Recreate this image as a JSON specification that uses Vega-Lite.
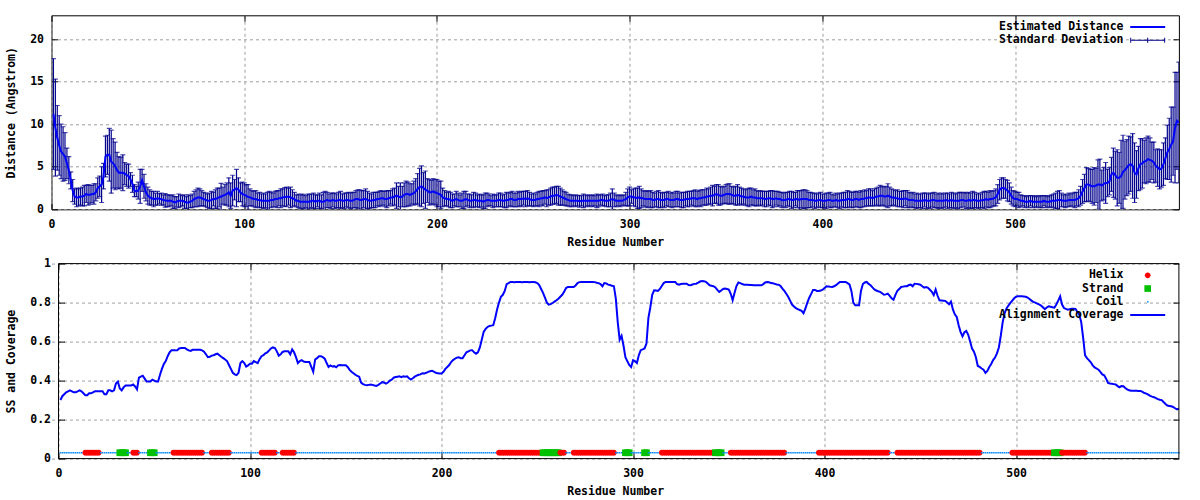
{
"$schema": "https://vega.github.io/schema/vega-lite/v6.json",
"background": "white",
"padding": {"left": 4.5, "top": 14.3, "right": 0, "bottom": 0},
"datasets": {"res": [
{"r":1,"d":11.2,"s":6.5,"c":0.3,"t":"C"},{"r":2,"d":9.6,"s":5.7,"c":0.32,"t":"C"},{"r":3,"d":8.4,"s":3.8,"c":0.33,"t":"C"},{"r":4,"d":7.5,"s":3.5,"c":0.34,"t":"C"},{"r":5,"d":6.8,"s":3.2,"c":0.345,"t":"C"},{"r":6,"d":6.5,"s":3.2,"c":0.35,"t":"C"},{"r":7,"d":6.2,"s":2.8,"c":0.345,"t":"C"},{"r":8,"d":5.4,"s":1.8,"c":0.34,"t":"C"},{"r":9,"d":4.6,"s":1.6,"c":0.34,"t":"C"},{"r":10,"d":3.4,"s":1.0,"c":0.345,"t":"C"},
{"r":11,"d":2.2,"s":1.3,"c":0.35,"t":"C"},{"r":12,"d":1.5,"s":0.9,"c":0.345,"t":"C"},{"r":13,"d":1.4,"s":1.1,"c":0.335,"t":"C"},{"r":14,"d":1.4,"s":1.0,"c":0.325,"t":"H"},{"r":15,"d":1.5,"s":1.0,"c":0.325,"t":"H"},{"r":16,"d":1.5,"s":1.1,"c":0.335,"t":"H"},{"r":17,"d":1.6,"s":1.2,"c":0.335,"t":"H"},{"r":18,"d":1.8,"s":1.0,"c":0.34,"t":"H"},{"r":19,"d":1.7,"s":1.2,"c":0.345,"t":"H"},{"r":20,"d":1.7,"s":1.1,"c":0.345,"t":"H"},
{"r":21,"d":1.8,"s":1.0,"c":0.345,"t":"H"},{"r":22,"d":1.8,"s":1.2,"c":0.345,"t":"C"},{"r":23,"d":2.0,"s":1.0,"c":0.345,"t":"C"},{"r":24,"d":2.5,"s":1.2,"c":0.33,"t":"C"},{"r":25,"d":2.7,"s":1.2,"c":0.33,"t":"C"},{"r":26,"d":2.9,"s":2.1,"c":0.35,"t":"C"},{"r":27,"d":3.9,"s":1.5,"c":0.35,"t":"C"},{"r":28,"d":6.2,"s":2.4,"c":0.345,"t":"C"},{"r":29,"d":6.4,"s":2.3,"c":0.35,"t":"C"},{"r":30,"d":6.4,"s":3.1,"c":0.385,"t":"C"},
{"r":31,"d":5.6,"s":3.7,"c":0.395,"t":"C"},{"r":32,"d":5.4,"s":2.9,"c":0.36,"t":"E"},{"r":33,"d":5.1,"s":2.8,"c":0.35,"t":"E"},{"r":34,"d":4.6,"s":2.1,"c":0.365,"t":"E"},{"r":35,"d":4.3,"s":1.9,"c":0.375,"t":"E"},{"r":36,"d":4.3,"s":1.8,"c":0.375,"t":"C"},{"r":37,"d":4.3,"s":2.1,"c":0.375,"t":"C"},{"r":38,"d":4.2,"s":1.3,"c":0.375,"t":"C"},{"r":39,"d":4.0,"s":1.3,"c":0.38,"t":"H"},{"r":40,"d":3.9,"s":1.4,"c":0.37,"t":"H"},
{"r":41,"d":3.5,"s":0.8,"c":0.355,"t":"H"},{"r":42,"d":3.0,"s":1.0,"c":0.415,"t":"C"},{"r":43,"d":2.2,"s":0.7,"c":0.42,"t":"C"},{"r":44,"d":2.1,"s":0.6,"c":0.425,"t":"C"},{"r":45,"d":2.2,"s":1.0,"c":0.41,"t":"C"},{"r":46,"d":2.7,"s":2.0,"c":0.395,"t":"C"},{"r":47,"d":3.4,"s":1.3,"c":0.395,"t":"C"},{"r":48,"d":2.7,"s":1.4,"c":0.395,"t":"E"},{"r":49,"d":2.0,"s":1.0,"c":0.405,"t":"E"},{"r":50,"d":1.6,"s":1.0,"c":0.4,"t":"E"},
{"r":51,"d":1.4,"s":0.9,"c":0.395,"t":"C"},{"r":52,"d":1.3,"s":0.8,"c":0.395,"t":"C"},{"r":53,"d":1.2,"s":0.9,"c":0.43,"t":"C"},{"r":54,"d":1.2,"s":0.7,"c":0.46,"t":"C"},{"r":55,"d":1.3,"s":0.8,"c":0.485,"t":"C"},{"r":56,"d":1.25,"s":0.6,"c":0.5,"t":"C"},{"r":57,"d":1.2,"s":0.7,"c":0.525,"t":"C"},{"r":58,"d":1.1,"s":0.6,"c":0.545,"t":"C"},{"r":59,"d":1.05,"s":0.8,"c":0.555,"t":"C"},{"r":60,"d":1.0,"s":0.7,"c":0.555,"t":"H"},
{"r":61,"d":1.0,"s":0.7,"c":0.555,"t":"H"},{"r":62,"d":1.0,"s":0.6,"c":0.556,"t":"H"},{"r":63,"d":0.9,"s":0.8,"c":0.565,"t":"H"},{"r":64,"d":0.8,"s":0.7,"c":0.567,"t":"H"},{"r":65,"d":0.9,"s":0.6,"c":0.567,"t":"H"},{"r":66,"d":1.0,"s":0.8,"c":0.567,"t":"H"},{"r":67,"d":1.0,"s":0.7,"c":0.56,"t":"H"},{"r":68,"d":1.0,"s":0.6,"c":0.555,"t":"H"},{"r":69,"d":0.9,"s":0.8,"c":0.552,"t":"H"},{"r":70,"d":0.8,"s":0.7,"c":0.558,"t":"H"},
{"r":71,"d":0.8,"s":0.9,"c":0.558,"t":"H"},{"r":72,"d":0.9,"s":0.7,"c":0.558,"t":"H"},{"r":73,"d":1.0,"s":0.8,"c":0.558,"t":"H"},{"r":74,"d":1.2,"s":0.9,"c":0.558,"t":"H"},{"r":75,"d":1.3,"s":1.0,"c":0.555,"t":"H"},{"r":76,"d":1.4,"s":1.1,"c":0.548,"t":"C"},{"r":77,"d":1.4,"s":1.0,"c":0.535,"t":"C"},{"r":78,"d":1.3,"s":0.9,"c":0.52,"t":"C"},{"r":79,"d":1.2,"s":0.8,"c":0.522,"t":"C"},{"r":80,"d":1.1,"s":0.8,"c":0.528,"t":"H"},
{"r":81,"d":1.0,"s":0.8,"c":0.53,"t":"H"},{"r":82,"d":1.0,"s":0.9,"c":0.535,"t":"H"},{"r":83,"d":1.1,"s":1.0,"c":0.538,"t":"H"},{"r":84,"d":1.2,"s":0.8,"c":0.53,"t":"H"},{"r":85,"d":1.2,"s":1.1,"c":0.522,"t":"H"},{"r":86,"d":1.3,"s":1.2,"c":0.515,"t":"H"},{"r":87,"d":1.4,"s":1.1,"c":0.508,"t":"H"},{"r":88,"d":1.5,"s":1.55,"c":0.5,"t":"H"},{"r":89,"d":1.6,"s":1.0,"c":0.48,"t":"H"},{"r":90,"d":1.7,"s":1.2,"c":0.46,"t":"C"},
{"r":91,"d":1.8,"s":1.3,"c":0.44,"t":"C"},{"r":92,"d":2.0,"s":1.7,"c":0.432,"t":"C"},{"r":93,"d":1.6,"s":1.5,"c":0.428,"t":"C"},{"r":94,"d":2.2,"s":1.8,"c":0.44,"t":"C"},{"r":95,"d":2.3,"s":1.2,"c":0.49,"t":"C"},{"r":96,"d":2.5,"s":2.2,"c":0.5,"t":"C"},{"r":97,"d":2.3,"s":1.4,"c":0.49,"t":"C"},{"r":98,"d":2.0,"s":1.1,"c":0.472,"t":"C"},{"r":99,"d":1.8,"s":1.4,"c":0.478,"t":"C"},{"r":100,"d":1.7,"s":1.4,"c":0.487,"t":"C"},
{"r":101,"d":1.6,"s":1.3,"c":0.487,"t":"C"},{"r":102,"d":1.45,"s":1.45,"c":0.5,"t":"C"},{"r":103,"d":1.4,"s":1.0,"c":0.495,"t":"C"},{"r":104,"d":1.3,"s":0.9,"c":0.49,"t":"C"},{"r":105,"d":1.2,"s":0.9,"c":0.51,"t":"C"},{"r":106,"d":1.2,"s":1.0,"c":0.525,"t":"H"},{"r":107,"d":1.1,"s":0.8,"c":0.53,"t":"H"},{"r":108,"d":1.1,"s":0.9,"c":0.54,"t":"H"},{"r":109,"d":1.0,"s":0.8,"c":0.545,"t":"H"},{"r":110,"d":1.0,"s":0.9,"c":0.555,"t":"H"},
{"r":111,"d":1.0,"s":0.8,"c":0.565,"t":"H"},{"r":112,"d":1.0,"s":1.0,"c":0.57,"t":"H"},{"r":113,"d":1.0,"s":1.1,"c":0.567,"t":"H"},{"r":114,"d":1.1,"s":0.9,"c":0.55,"t":"C"},{"r":115,"d":1.1,"s":0.8,"c":0.528,"t":"C"},{"r":116,"d":1.2,"s":0.9,"c":0.535,"t":"C"},{"r":117,"d":1.2,"s":1.0,"c":0.547,"t":"H"},{"r":118,"d":1.3,"s":0.9,"c":0.55,"t":"H"},{"r":119,"d":1.3,"s":1.1,"c":0.55,"t":"H"},{"r":120,"d":1.4,"s":1.0,"c":0.55,"t":"H"},
{"r":121,"d":1.45,"s":1.1,"c":0.535,"t":"H"},{"r":122,"d":1.45,"s":1.15,"c":0.56,"t":"H"},{"r":123,"d":1.5,"s":1.0,"c":0.545,"t":"H"},{"r":124,"d":1.4,"s":1.2,"c":0.52,"t":"C"},{"r":125,"d":1.3,"s":1.0,"c":0.49,"t":"C"},{"r":126,"d":1.2,"s":0.8,"c":0.5,"t":"C"},{"r":127,"d":1.0,"s":0.7,"c":0.505,"t":"C"},{"r":128,"d":1.0,"s":0.8,"c":0.498,"t":"C"},{"r":129,"d":0.9,"s":0.8,"c":0.496,"t":"C"},{"r":130,"d":0.9,"s":0.9,"c":0.496,"t":"C"},
{"r":131,"d":0.9,"s":0.8,"c":0.496,"t":"C"},{"r":132,"d":0.9,"s":0.7,"c":0.47,"t":"C"},{"r":133,"d":0.9,"s":0.9,"c":0.445,"t":"C"},{"r":134,"d":0.9,"s":0.85,"c":0.508,"t":"C"},{"r":135,"d":1.0,"s":0.8,"c":0.515,"t":"C"},{"r":136,"d":1.0,"s":0.9,"c":0.525,"t":"C"},{"r":137,"d":0.9,"s":0.8,"c":0.525,"t":"C"},{"r":138,"d":1.0,"s":0.7,"c":0.52,"t":"C"},{"r":139,"d":1.0,"s":0.9,"c":0.513,"t":"C"},{"r":140,"d":0.9,"s":0.8,"c":0.49,"t":"C"},
{"r":141,"d":0.9,"s":1.1,"c":0.47,"t":"C"},{"r":142,"d":1.0,"s":1.1,"c":0.478,"t":"C"},{"r":143,"d":1.1,"s":0.9,"c":0.472,"t":"C"},{"r":144,"d":1.0,"s":0.8,"c":0.474,"t":"C"},{"r":145,"d":1.0,"s":0.9,"c":0.468,"t":"C"},{"r":146,"d":1.1,"s":0.8,"c":0.478,"t":"C"},{"r":147,"d":1.0,"s":0.9,"c":0.48,"t":"C"},{"r":148,"d":1.0,"s":0.8,"c":0.479,"t":"C"},{"r":149,"d":1.1,"s":0.9,"c":0.479,"t":"C"},{"r":150,"d":1.1,"s":1.0,"c":0.479,"t":"C"},
{"r":151,"d":1.0,"s":0.8,"c":0.47,"t":"C"},{"r":152,"d":1.0,"s":0.9,"c":0.455,"t":"C"},{"r":153,"d":1.1,"s":0.8,"c":0.445,"t":"C"},{"r":154,"d":1.1,"s":0.9,"c":0.438,"t":"C"},{"r":155,"d":1.0,"s":0.9,"c":0.43,"t":"C"},{"r":156,"d":1.0,"s":1.0,"c":0.424,"t":"C"},{"r":157,"d":1.1,"s":0.9,"c":0.42,"t":"C"},{"r":158,"d":1.2,"s":1.0,"c":0.39,"t":"C"},{"r":159,"d":1.2,"s":1.1,"c":0.382,"t":"C"},{"r":160,"d":1.1,"s":1.2,"c":0.378,"t":"C"},
{"r":161,"d":1.1,"s":1.1,"c":0.376,"t":"C"},{"r":162,"d":1.2,"s":1.0,"c":0.378,"t":"C"},{"r":163,"d":1.2,"s":1.2,"c":0.38,"t":"C"},{"r":164,"d":1.1,"s":1.0,"c":0.378,"t":"C"},{"r":165,"d":1.0,"s":0.9,"c":0.375,"t":"C"},{"r":166,"d":1.0,"s":0.8,"c":0.373,"t":"C"},{"r":167,"d":1.1,"s":0.9,"c":0.378,"t":"C"},{"r":168,"d":1.1,"s":0.9,"c":0.385,"t":"C"},{"r":169,"d":1.2,"s":0.8,"c":0.392,"t":"C"},{"r":170,"d":1.2,"s":0.9,"c":0.39,"t":"C"},
{"r":171,"d":1.3,"s":0.9,"c":0.385,"t":"C"},{"r":172,"d":1.3,"s":0.8,"c":0.39,"t":"C"},{"r":173,"d":1.2,"s":0.9,"c":0.4,"t":"C"},{"r":174,"d":1.2,"s":1.0,"c":0.405,"t":"C"},{"r":175,"d":1.3,"s":0.9,"c":0.415,"t":"C"},{"r":176,"d":1.4,"s":0.8,"c":0.418,"t":"C"},{"r":177,"d":1.4,"s":1.0,"c":0.42,"t":"C"},{"r":178,"d":1.5,"s":1.0,"c":0.422,"t":"C"},{"r":179,"d":1.6,"s":1.5,"c":0.418,"t":"C"},{"r":180,"d":1.5,"s":1.2,"c":0.422,"t":"C"},
{"r":181,"d":1.4,"s":1.7,"c":0.42,"t":"C"},{"r":182,"d":1.5,"s":1.2,"c":0.422,"t":"C"},{"r":183,"d":1.7,"s":1.4,"c":0.412,"t":"C"},{"r":184,"d":1.8,"s":1.5,"c":0.405,"t":"C"},{"r":185,"d":1.8,"s":1.4,"c":0.412,"t":"C"},{"r":186,"d":1.7,"s":1.3,"c":0.42,"t":"C"},{"r":187,"d":1.8,"s":1.2,"c":0.425,"t":"C"},{"r":188,"d":1.9,"s":1.4,"c":0.43,"t":"C"},{"r":189,"d":2.1,"s":1.5,"c":0.432,"t":"C"},{"r":190,"d":2.4,"s":1.8,"c":0.438,"t":"C"},
{"r":191,"d":2.6,"s":2.2,"c":0.436,"t":"C"},{"r":192,"d":2.7,"s":2.4,"c":0.44,"t":"C"},{"r":193,"d":2.5,"s":1.8,"c":0.445,"t":"C"},{"r":194,"d":2.3,"s":2.2,"c":0.448,"t":"C"},{"r":195,"d":2.2,"s":1.4,"c":0.45,"t":"C"},{"r":196,"d":2.0,"s":1.5,"c":0.446,"t":"C"},{"r":197,"d":2.0,"s":1.4,"c":0.44,"t":"C"},{"r":198,"d":2.1,"s":1.5,"c":0.438,"t":"C"},{"r":199,"d":2.0,"s":1.5,"c":0.436,"t":"C"},{"r":200,"d":1.9,"s":1.6,"c":0.436,"t":"C"},
{"r":201,"d":1.8,"s":1.5,"c":0.445,"t":"C"},{"r":202,"d":1.7,"s":1.6,"c":0.46,"t":"C"},{"r":203,"d":1.4,"s":1.1,"c":0.47,"t":"C"},{"r":204,"d":1.3,"s":0.9,"c":0.48,"t":"C"},{"r":205,"d":1.2,"s":0.8,"c":0.495,"t":"C"},{"r":206,"d":1.2,"s":0.9,"c":0.505,"t":"C"},{"r":207,"d":1.1,"s":0.9,"c":0.512,"t":"C"},{"r":208,"d":1.0,"s":0.8,"c":0.518,"t":"C"},{"r":209,"d":1.1,"s":0.7,"c":0.52,"t":"C"},{"r":210,"d":1.2,"s":0.9,"c":0.515,"t":"C"},
{"r":211,"d":1.1,"s":0.8,"c":0.515,"t":"C"},{"r":212,"d":1.0,"s":0.7,"c":0.53,"t":"C"},{"r":213,"d":1.0,"s":0.9,"c":0.545,"t":"C"},{"r":214,"d":1.1,"s":1.0,"c":0.55,"t":"C"},{"r":215,"d":1.2,"s":0.9,"c":0.555,"t":"C"},{"r":216,"d":1.1,"s":0.7,"c":0.556,"t":"C"},{"r":217,"d":1.0,"s":0.8,"c":0.545,"t":"C"},{"r":218,"d":1.0,"s":0.7,"c":0.538,"t":"C"},{"r":219,"d":1.1,"s":0.9,"c":0.545,"t":"C"},{"r":220,"d":1.1,"s":0.8,"c":0.57,"t":"C"},
{"r":221,"d":1.0,"s":0.7,"c":0.61,"t":"C"},{"r":222,"d":1.0,"s":0.8,"c":0.65,"t":"C"},{"r":223,"d":1.0,"s":0.7,"c":0.665,"t":"C"},{"r":224,"d":0.9,"s":0.8,"c":0.675,"t":"C"},{"r":225,"d":1.0,"s":0.9,"c":0.68,"t":"C"},{"r":226,"d":1.1,"s":0.8,"c":0.682,"t":"C"},{"r":227,"d":1.1,"s":0.7,"c":0.684,"t":"C"},{"r":228,"d":1.0,"s":0.6,"c":0.72,"t":"C"},{"r":229,"d":1.0,"s":0.8,"c":0.765,"t":"C"},{"r":230,"d":1.0,"s":0.7,"c":0.8,"t":"H"},
{"r":231,"d":1.0,"s":0.7,"c":0.83,"t":"H"},{"r":232,"d":1.1,"s":0.8,"c":0.84,"t":"H"},{"r":233,"d":1.1,"s":0.8,"c":0.86,"t":"H"},{"r":234,"d":1.0,"s":0.7,"c":0.895,"t":"H"},{"r":235,"d":1.0,"s":0.8,"c":0.9,"t":"H"},{"r":236,"d":1.1,"s":0.9,"c":0.906,"t":"H"},{"r":237,"d":1.1,"s":0.8,"c":0.906,"t":"H"},{"r":238,"d":1.2,"s":0.8,"c":0.905,"t":"H"},{"r":239,"d":1.2,"s":0.9,"c":0.906,"t":"H"},{"r":240,"d":1.1,"s":0.8,"c":0.906,"t":"H"},
{"r":241,"d":1.1,"s":0.8,"c":0.906,"t":"H"},{"r":242,"d":1.2,"s":0.9,"c":0.905,"t":"H"},{"r":243,"d":1.2,"s":0.8,"c":0.906,"t":"H"},{"r":244,"d":1.2,"s":0.9,"c":0.906,"t":"H"},{"r":245,"d":1.3,"s":0.8,"c":0.906,"t":"H"},{"r":246,"d":1.2,"s":0.9,"c":0.905,"t":"H"},{"r":247,"d":1.3,"s":0.9,"c":0.906,"t":"H"},{"r":248,"d":1.2,"s":0.8,"c":0.906,"t":"H"},{"r":249,"d":1.1,"s":0.7,"c":0.904,"t":"H"},{"r":250,"d":1.1,"s":0.8,"c":0.9,"t":"H"},
{"r":251,"d":1.1,"s":0.7,"c":0.89,"t":"H"},{"r":252,"d":1.2,"s":0.8,"c":0.87,"t":"H"},{"r":253,"d":1.2,"s":0.9,"c":0.85,"t":"E"},{"r":254,"d":1.3,"s":0.8,"c":0.825,"t":"E"},{"r":255,"d":1.3,"s":0.9,"c":0.8,"t":"E"},{"r":256,"d":1.4,"s":0.8,"c":0.79,"t":"E"},{"r":257,"d":1.3,"s":1.0,"c":0.792,"t":"E"},{"r":258,"d":1.4,"s":0.9,"c":0.798,"t":"E"},{"r":259,"d":1.5,"s":1.0,"c":0.805,"t":"E"},{"r":260,"d":1.6,"s":1.0,"c":0.812,"t":"E"},
{"r":261,"d":1.6,"s":1.0,"c":0.82,"t":"E"},{"r":262,"d":1.7,"s":1.0,"c":0.83,"t":"H"},{"r":263,"d":1.6,"s":1.1,"c":0.84,"t":"H"},{"r":264,"d":1.5,"s":1.0,"c":0.855,"t":"H"},{"r":265,"d":1.4,"s":0.9,"c":0.875,"t":"C"},{"r":266,"d":1.3,"s":0.8,"c":0.88,"t":"C"},{"r":267,"d":1.2,"s":0.8,"c":0.88,"t":"C"},{"r":268,"d":1.1,"s":0.7,"c":0.88,"t":"C"},{"r":269,"d":1.0,"s":0.7,"c":0.88,"t":"H"},{"r":270,"d":1.0,"s":0.7,"c":0.888,"t":"H"},
{"r":271,"d":1.0,"s":0.6,"c":0.9,"t":"H"},{"r":272,"d":1.0,"s":0.7,"c":0.905,"t":"H"},{"r":273,"d":1.0,"s":0.6,"c":0.906,"t":"H"},{"r":274,"d":0.95,"s":0.7,"c":0.906,"t":"H"},{"r":275,"d":1.0,"s":0.6,"c":0.906,"t":"H"},{"r":276,"d":1.0,"s":0.8,"c":0.906,"t":"H"},{"r":277,"d":1.0,"s":0.7,"c":0.906,"t":"H"},{"r":278,"d":1.0,"s":0.6,"c":0.906,"t":"H"},{"r":279,"d":1.0,"s":0.7,"c":0.906,"t":"H"},{"r":280,"d":1.0,"s":0.6,"c":0.905,"t":"H"},
{"r":281,"d":1.0,"s":0.7,"c":0.902,"t":"H"},{"r":282,"d":1.0,"s":0.6,"c":0.9,"t":"H"},{"r":283,"d":1.0,"s":0.8,"c":0.895,"t":"H"},{"r":284,"d":1.0,"s":0.7,"c":0.884,"t":"H"},{"r":285,"d":1.1,"s":0.6,"c":0.9,"t":"H"},{"r":286,"d":1.1,"s":0.7,"c":0.898,"t":"H"},{"r":287,"d":1.0,"s":0.6,"c":0.892,"t":"H"},{"r":288,"d":1.0,"s":0.7,"c":0.89,"t":"H"},{"r":289,"d":1.0,"s":0.7,"c":0.886,"t":"H"},{"r":290,"d":1.1,"s":0.8,"c":0.884,"t":"H"},
{"r":291,"d":1.2,"s":1.2,"c":0.82,"t":"C"},{"r":292,"d":1.1,"s":0.8,"c":0.7,"t":"C"},{"r":293,"d":1.0,"s":0.7,"c":0.61,"t":"C"},{"r":294,"d":1.0,"s":0.6,"c":0.63,"t":"C"},{"r":295,"d":1.0,"s":0.7,"c":0.58,"t":"C"},{"r":296,"d":1.0,"s":0.6,"c":0.52,"t":"E"},{"r":297,"d":1.1,"s":0.6,"c":0.5,"t":"E"},{"r":298,"d":1.2,"s":0.8,"c":0.48,"t":"E"},{"r":299,"d":1.4,"s":1.0,"c":0.47,"t":"C"},{"r":300,"d":1.5,"s":1.1,"c":0.505,"t":"C"},
{"r":301,"d":1.5,"s":0.8,"c":0.5,"t":"C"},{"r":302,"d":1.4,"s":1.0,"c":0.49,"t":"C"},{"r":303,"d":1.4,"s":1.1,"c":0.53,"t":"C"},{"r":304,"d":1.3,"s":1.2,"c":0.556,"t":"C"},{"r":305,"d":1.4,"s":1.3,"c":0.56,"t":"C"},{"r":306,"d":1.3,"s":1.1,"c":0.565,"t":"E"},{"r":307,"d":1.3,"s":0.9,"c":0.59,"t":"E"},{"r":308,"d":1.2,"s":0.9,"c":0.72,"t":"C"},{"r":309,"d":1.2,"s":1.0,"c":0.775,"t":"C"},{"r":310,"d":1.2,"s":0.9,"c":0.84,"t":"C"},
{"r":311,"d":1.2,"s":1.0,"c":0.863,"t":"C"},{"r":312,"d":1.1,"s":0.9,"c":0.862,"t":"C"},{"r":313,"d":1.1,"s":0.8,"c":0.86,"t":"C"},{"r":314,"d":1.2,"s":0.9,"c":0.87,"t":"C"},{"r":315,"d":1.2,"s":1.0,"c":0.885,"t":"H"},{"r":316,"d":1.1,"s":0.9,"c":0.9,"t":"H"},{"r":317,"d":1.1,"s":0.8,"c":0.906,"t":"H"},{"r":318,"d":1.1,"s":0.9,"c":0.906,"t":"H"},{"r":319,"d":1.2,"s":0.8,"c":0.906,"t":"H"},{"r":320,"d":1.2,"s":0.9,"c":0.906,"t":"H"},
{"r":321,"d":1.1,"s":0.8,"c":0.906,"t":"H"},{"r":322,"d":1.1,"s":0.9,"c":0.906,"t":"H"},{"r":323,"d":1.1,"s":0.8,"c":0.895,"t":"H"},{"r":324,"d":1.2,"s":0.9,"c":0.892,"t":"H"},{"r":325,"d":1.2,"s":0.9,"c":0.895,"t":"H"},{"r":326,"d":1.1,"s":0.8,"c":0.897,"t":"H"},{"r":327,"d":1.1,"s":0.9,"c":0.897,"t":"H"},{"r":328,"d":1.1,"s":0.9,"c":0.897,"t":"H"},{"r":329,"d":1.2,"s":0.8,"c":0.89,"t":"H"},{"r":330,"d":1.2,"s":0.9,"c":0.889,"t":"H"},
{"r":331,"d":1.2,"s":0.9,"c":0.893,"t":"H"},{"r":332,"d":1.3,"s":0.8,"c":0.896,"t":"H"},{"r":333,"d":1.3,"s":0.9,"c":0.897,"t":"H"},{"r":334,"d":1.3,"s":1.0,"c":0.902,"t":"H"},{"r":335,"d":1.2,"s":0.9,"c":0.908,"t":"H"},{"r":336,"d":1.3,"s":0.9,"c":0.911,"t":"H"},{"r":337,"d":1.3,"s":1.0,"c":0.91,"t":"H"},{"r":338,"d":1.4,"s":0.9,"c":0.906,"t":"H"},{"r":339,"d":1.4,"s":0.9,"c":0.898,"t":"H"},{"r":340,"d":1.5,"s":1.0,"c":0.889,"t":"H"},
{"r":341,"d":1.5,"s":0.9,"c":0.886,"t":"H"},{"r":342,"d":1.6,"s":1.0,"c":0.884,"t":"H"},{"r":343,"d":1.6,"s":1.2,"c":0.878,"t":"E"},{"r":344,"d":1.7,"s":1.0,"c":0.865,"t":"E"},{"r":345,"d":1.8,"s":1.1,"c":0.855,"t":"E"},{"r":346,"d":1.7,"s":1.2,"c":0.862,"t":"E"},{"r":347,"d":1.6,"s":1.1,"c":0.87,"t":"C"},{"r":348,"d":1.6,"s":1.0,"c":0.872,"t":"C"},{"r":349,"d":1.7,"s":1.0,"c":0.87,"t":"C"},{"r":350,"d":1.8,"s":1.1,"c":0.867,"t":"C"},
{"r":351,"d":1.8,"s":1.2,"c":0.845,"t":"H"},{"r":352,"d":1.8,"s":1.2,"c":0.812,"t":"H"},{"r":353,"d":1.7,"s":1.0,"c":0.85,"t":"H"},{"r":354,"d":1.6,"s":1.0,"c":0.885,"t":"H"},{"r":355,"d":1.6,"s":1.1,"c":0.903,"t":"H"},{"r":356,"d":1.7,"s":1.2,"c":0.9,"t":"H"},{"r":357,"d":1.6,"s":1.0,"c":0.895,"t":"H"},{"r":358,"d":1.5,"s":1.0,"c":0.892,"t":"H"},{"r":359,"d":1.5,"s":0.9,"c":0.892,"t":"H"},{"r":360,"d":1.4,"s":0.9,"c":0.891,"t":"H"},
{"r":361,"d":1.4,"s":1.0,"c":0.89,"t":"H"},{"r":362,"d":1.4,"s":1.1,"c":0.89,"t":"H"},{"r":363,"d":1.5,"s":1.0,"c":0.889,"t":"H"},{"r":364,"d":1.4,"s":0.9,"c":0.889,"t":"H"},{"r":365,"d":1.4,"s":1.0,"c":0.889,"t":"H"},{"r":366,"d":1.3,"s":0.9,"c":0.889,"t":"H"},{"r":367,"d":1.3,"s":0.8,"c":0.889,"t":"H"},{"r":368,"d":1.3,"s":0.9,"c":0.895,"t":"H"},{"r":369,"d":1.3,"s":0.8,"c":0.903,"t":"H"},{"r":370,"d":1.2,"s":0.9,"c":0.906,"t":"H"},
{"r":371,"d":1.2,"s":0.9,"c":0.904,"t":"H"},{"r":372,"d":1.3,"s":0.8,"c":0.9,"t":"H"},{"r":373,"d":1.3,"s":0.9,"c":0.899,"t":"H"},{"r":374,"d":1.2,"s":1.0,"c":0.896,"t":"H"},{"r":375,"d":1.2,"s":0.9,"c":0.893,"t":"H"},{"r":376,"d":1.3,"s":0.8,"c":0.892,"t":"H"},{"r":377,"d":1.2,"s":0.9,"c":0.885,"t":"H"},{"r":378,"d":1.2,"s":0.8,"c":0.872,"t":"H"},{"r":379,"d":1.1,"s":0.9,"c":0.86,"t":"H"},{"r":380,"d":1.1,"s":0.8,"c":0.845,"t":"C"},
{"r":381,"d":1.1,"s":0.9,"c":0.83,"t":"C"},{"r":382,"d":1.2,"s":0.8,"c":0.81,"t":"C"},{"r":383,"d":1.2,"s":0.9,"c":0.79,"t":"C"},{"r":384,"d":1.1,"s":1.0,"c":0.78,"t":"C"},{"r":385,"d":1.1,"s":0.9,"c":0.772,"t":"C"},{"r":386,"d":1.2,"s":0.8,"c":0.766,"t":"C"},{"r":387,"d":1.2,"s":1.0,"c":0.762,"t":"C"},{"r":388,"d":1.1,"s":1.1,"c":0.758,"t":"C"},{"r":389,"d":1.2,"s":1.0,"c":0.745,"t":"C"},{"r":390,"d":1.2,"s":1.1,"c":0.77,"t":"C"},
{"r":391,"d":1.2,"s":1.1,"c":0.8,"t":"C"},{"r":392,"d":1.2,"s":1.0,"c":0.825,"t":"C"},{"r":393,"d":1.1,"s":0.9,"c":0.845,"t":"C"},{"r":394,"d":1.1,"s":0.9,"c":0.865,"t":"C"},{"r":395,"d":1.1,"s":0.8,"c":0.865,"t":"C"},{"r":396,"d":1.0,"s":0.9,"c":0.86,"t":"C"},{"r":397,"d":1.0,"s":0.8,"c":0.86,"t":"H"},{"r":398,"d":1.1,"s":0.8,"c":0.862,"t":"H"},{"r":399,"d":1.1,"s":0.9,"c":0.866,"t":"H"},{"r":400,"d":1.0,"s":0.8,"c":0.875,"t":"H"},
{"r":401,"d":1.0,"s":0.8,"c":0.884,"t":"H"},{"r":402,"d":1.0,"s":0.9,"c":0.883,"t":"H"},{"r":403,"d":1.1,"s":0.8,"c":0.881,"t":"H"},{"r":404,"d":1.1,"s":0.9,"c":0.88,"t":"H"},{"r":405,"d":1.0,"s":0.8,"c":0.884,"t":"H"},{"r":406,"d":1.0,"s":0.7,"c":0.889,"t":"H"},{"r":407,"d":1.1,"s":0.8,"c":0.898,"t":"H"},{"r":408,"d":1.0,"s":0.8,"c":0.906,"t":"H"},{"r":409,"d":1.0,"s":0.9,"c":0.906,"t":"H"},{"r":410,"d":1.1,"s":0.8,"c":0.906,"t":"H"},
{"r":411,"d":1.1,"s":0.9,"c":0.906,"t":"H"},{"r":412,"d":1.1,"s":0.9,"c":0.9,"t":"H"},{"r":413,"d":1.2,"s":1.0,"c":0.893,"t":"H"},{"r":414,"d":1.2,"s":0.9,"c":0.86,"t":"H"},{"r":415,"d":1.1,"s":0.9,"c":0.8,"t":"H"},{"r":416,"d":1.1,"s":0.9,"c":0.786,"t":"H"},{"r":417,"d":1.2,"s":0.9,"c":0.786,"t":"H"},{"r":418,"d":1.2,"s":0.9,"c":0.786,"t":"H"},{"r":419,"d":1.1,"s":0.9,"c":0.86,"t":"H"},{"r":420,"d":1.2,"s":1.0,"c":0.895,"t":"H"},
{"r":421,"d":1.2,"s":0.9,"c":0.903,"t":"H"},{"r":422,"d":1.3,"s":1.0,"c":0.906,"t":"H"},{"r":423,"d":1.3,"s":0.9,"c":0.896,"t":"H"},{"r":424,"d":1.4,"s":1.0,"c":0.889,"t":"H"},{"r":425,"d":1.4,"s":1.0,"c":0.878,"t":"H"},{"r":426,"d":1.3,"s":0.9,"c":0.868,"t":"H"},{"r":427,"d":1.4,"s":1.0,"c":0.862,"t":"H"},{"r":428,"d":1.5,"s":1.0,"c":0.858,"t":"H"},{"r":429,"d":1.5,"s":1.1,"c":0.855,"t":"H"},{"r":430,"d":1.6,"s":1.2,"c":0.848,"t":"H"},
{"r":431,"d":1.6,"s":1.1,"c":0.84,"t":"H"},{"r":432,"d":1.5,"s":1.1,"c":0.842,"t":"H"},{"r":433,"d":1.5,"s":1.2,"c":0.846,"t":"H"},{"r":434,"d":1.6,"s":1.4,"c":0.835,"t":"C"},{"r":435,"d":1.5,"s":1.1,"c":0.822,"t":"C"},{"r":436,"d":1.4,"s":1.0,"c":0.815,"t":"C"},{"r":437,"d":1.4,"s":0.9,"c":0.84,"t":"C"},{"r":438,"d":1.3,"s":0.9,"c":0.86,"t":"H"},{"r":439,"d":1.3,"s":1.0,"c":0.87,"t":"H"},{"r":440,"d":1.2,"s":0.9,"c":0.88,"t":"H"},
{"r":441,"d":1.2,"s":0.9,"c":0.882,"t":"H"},{"r":442,"d":1.2,"s":1.0,"c":0.884,"t":"H"},{"r":443,"d":1.3,"s":0.9,"c":0.884,"t":"H"},{"r":444,"d":1.2,"s":1.0,"c":0.89,"t":"H"},{"r":445,"d":1.1,"s":0.9,"c":0.892,"t":"H"},{"r":446,"d":1.1,"s":0.8,"c":0.884,"t":"H"},{"r":447,"d":1.1,"s":0.9,"c":0.897,"t":"H"},{"r":448,"d":1.0,"s":0.8,"c":0.896,"t":"H"},{"r":449,"d":1.0,"s":0.9,"c":0.894,"t":"H"},{"r":450,"d":1.0,"s":0.8,"c":0.892,"t":"H"},
{"r":451,"d":1.0,"s":0.8,"c":0.884,"t":"H"},{"r":452,"d":1.0,"s":0.9,"c":0.877,"t":"H"},{"r":453,"d":1.1,"s":0.8,"c":0.88,"t":"H"},{"r":454,"d":1.0,"s":0.9,"c":0.876,"t":"H"},{"r":455,"d":1.0,"s":0.8,"c":0.866,"t":"H"},{"r":456,"d":1.0,"s":0.9,"c":0.855,"t":"H"},{"r":457,"d":1.1,"s":0.8,"c":0.838,"t":"H"},{"r":458,"d":1.1,"s":0.9,"c":0.867,"t":"H"},{"r":459,"d":1.0,"s":0.8,"c":0.835,"t":"H"},{"r":460,"d":1.0,"s":0.9,"c":0.812,"t":"H"},
{"r":461,"d":1.0,"s":0.8,"c":0.811,"t":"H"},{"r":462,"d":1.0,"s":0.9,"c":0.81,"t":"H"},{"r":463,"d":1.0,"s":0.8,"c":0.809,"t":"H"},{"r":464,"d":1.1,"s":0.8,"c":0.8,"t":"H"},{"r":465,"d":1.0,"s":0.9,"c":0.791,"t":"H"},{"r":466,"d":1.0,"s":0.8,"c":0.805,"t":"H"},{"r":467,"d":1.1,"s":0.9,"c":0.765,"t":"H"},{"r":468,"d":1.0,"s":0.9,"c":0.74,"t":"H"},{"r":469,"d":1.0,"s":0.8,"c":0.726,"t":"H"},{"r":470,"d":1.0,"s":0.9,"c":0.684,"t":"H"},
{"r":471,"d":1.0,"s":1.0,"c":0.65,"t":"H"},{"r":472,"d":1.1,"s":0.9,"c":0.627,"t":"H"},{"r":473,"d":1.1,"s":0.8,"c":0.648,"t":"H"},{"r":474,"d":1.0,"s":1.0,"c":0.655,"t":"H"},{"r":475,"d":1.0,"s":0.9,"c":0.635,"t":"H"},{"r":476,"d":1.1,"s":0.9,"c":0.6,"t":"H"},{"r":477,"d":1.0,"s":0.9,"c":0.564,"t":"H"},{"r":478,"d":1.1,"s":1.0,"c":0.548,"t":"H"},{"r":479,"d":1.1,"s":0.9,"c":0.52,"t":"H"},{"r":480,"d":1.0,"s":0.8,"c":0.475,"t":"H"},
{"r":481,"d":1.0,"s":0.9,"c":0.47,"t":"H"},{"r":482,"d":1.0,"s":0.8,"c":0.462,"t":"C"},{"r":483,"d":1.1,"s":0.9,"c":0.456,"t":"C"},{"r":484,"d":1.1,"s":1.0,"c":0.44,"t":"C"},{"r":485,"d":1.2,"s":0.9,"c":0.45,"t":"C"},{"r":486,"d":1.1,"s":0.9,"c":0.47,"t":"C"},{"r":487,"d":1.2,"s":1.0,"c":0.485,"t":"C"},{"r":488,"d":1.2,"s":0.9,"c":0.505,"t":"C"},{"r":489,"d":1.3,"s":0.9,"c":0.518,"t":"C"},{"r":490,"d":1.4,"s":1.0,"c":0.54,"t":"C"},
{"r":491,"d":1.8,"s":1.1,"c":0.57,"t":"C"},{"r":492,"d":2.3,"s":1.2,"c":0.63,"t":"C"},{"r":493,"d":2.5,"s":1.2,"c":0.7,"t":"C"},{"r":494,"d":2.5,"s":1.2,"c":0.745,"t":"C"},{"r":495,"d":2.4,"s":1.1,"c":0.77,"t":"C"},{"r":496,"d":2.2,"s":1.2,"c":0.785,"t":"C"},{"r":497,"d":2.0,"s":1.1,"c":0.798,"t":"C"},{"r":498,"d":1.6,"s":1.0,"c":0.81,"t":"H"},{"r":499,"d":1.3,"s":0.9,"c":0.822,"t":"H"},{"r":500,"d":1.2,"s":0.9,"c":0.83,"t":"H"},
{"r":501,"d":1.2,"s":0.8,"c":0.833,"t":"H"},{"r":502,"d":1.1,"s":0.9,"c":0.833,"t":"H"},{"r":503,"d":1.0,"s":0.7,"c":0.832,"t":"H"},{"r":504,"d":1.0,"s":0.6,"c":0.831,"t":"H"},{"r":505,"d":0.9,"s":0.7,"c":0.83,"t":"H"},{"r":506,"d":0.9,"s":0.6,"c":0.826,"t":"H"},{"r":507,"d":0.9,"s":0.7,"c":0.818,"t":"H"},{"r":508,"d":1.0,"s":0.6,"c":0.81,"t":"H"},{"r":509,"d":0.9,"s":0.7,"c":0.804,"t":"H"},{"r":510,"d":0.9,"s":0.6,"c":0.8,"t":"H"},
{"r":511,"d":0.9,"s":0.7,"c":0.795,"t":"H"},{"r":512,"d":0.9,"s":0.6,"c":0.791,"t":"H"},{"r":513,"d":0.9,"s":0.7,"c":0.785,"t":"H"},{"r":514,"d":0.9,"s":0.7,"c":0.776,"t":"H"},{"r":515,"d":1.0,"s":0.6,"c":0.766,"t":"H"},{"r":516,"d":0.9,"s":0.7,"c":0.775,"t":"H"},{"r":517,"d":0.9,"s":0.6,"c":0.781,"t":"H"},{"r":518,"d":0.9,"s":0.7,"c":0.779,"t":"H"},{"r":519,"d":1.0,"s":0.7,"c":0.776,"t":"H"},{"r":520,"d":1.0,"s":0.8,"c":0.774,"t":"E"},
{"r":521,"d":1.0,"s":0.9,"c":0.79,"t":"E"},{"r":522,"d":1.1,"s":1.0,"c":0.81,"t":"E"},{"r":523,"d":1.1,"s":1.1,"c":0.832,"t":"E"},{"r":524,"d":1.1,"s":0.8,"c":0.79,"t":"H"},{"r":525,"d":1.0,"s":0.7,"c":0.772,"t":"H"},{"r":526,"d":1.0,"s":0.8,"c":0.768,"t":"H"},{"r":527,"d":1.0,"s":0.7,"c":0.764,"t":"H"},{"r":528,"d":1.1,"s":0.8,"c":0.766,"t":"H"},{"r":529,"d":1.1,"s":0.7,"c":0.768,"t":"H"},{"r":530,"d":1.1,"s":0.8,"c":0.769,"t":"H"},
{"r":531,"d":1.1,"s":0.9,"c":0.768,"t":"H"},{"r":532,"d":1.2,"s":0.8,"c":0.752,"t":"H"},{"r":533,"d":1.3,"s":1.0,"c":0.738,"t":"H"},{"r":534,"d":1.6,"s":1.1,"c":0.7,"t":"H"},{"r":535,"d":2.1,"s":1.4,"c":0.62,"t":"H"},{"r":536,"d":2.5,"s":1.6,"c":0.53,"t":"H"},{"r":537,"d":2.9,"s":2.0,"c":0.515,"t":"C"},{"r":538,"d":2.9,"s":1.9,"c":0.505,"t":"C"},{"r":539,"d":2.8,"s":1.9,"c":0.494,"t":"C"},{"r":540,"d":2.7,"s":2.0,"c":0.478,"t":"C"},
{"r":541,"d":2.7,"s":2.2,"c":0.468,"t":"C"},{"r":542,"d":2.8,"s":2.0,"c":0.462,"t":"C"},{"r":543,"d":2.9,"s":2.9,"c":0.456,"t":"C"},{"r":544,"d":2.9,"s":3.0,"c":0.445,"t":"C"},{"r":545,"d":2.8,"s":1.8,"c":0.432,"t":"C"},{"r":546,"d":3.0,"s":1.9,"c":0.427,"t":"C"},{"r":547,"d":3.1,"s":2.4,"c":0.41,"t":"C"},{"r":548,"d":3.1,"s":1.6,"c":0.388,"t":"C"},{"r":549,"d":3.3,"s":1.6,"c":0.385,"t":"C"},{"r":550,"d":4.1,"s":2.0,"c":0.384,"t":"C"},
{"r":551,"d":4.3,"s":2.9,"c":0.382,"t":"C"},{"r":552,"d":4.0,"s":2.8,"c":0.38,"t":"C"},{"r":553,"d":3.7,"s":3.3,"c":0.372,"t":"C"},{"r":554,"d":3.7,"s":3.0,"c":0.366,"t":"C"},{"r":555,"d":3.9,"s":4.2,"c":0.372,"t":"C"},{"r":556,"d":4.4,"s":4.3,"c":0.371,"t":"C"},{"r":557,"d":4.6,"s":3.4,"c":0.362,"t":"C"},{"r":558,"d":4.9,"s":3.3,"c":0.355,"t":"C"},{"r":559,"d":5.2,"s":3.4,"c":0.35,"t":"C"},{"r":560,"d":5.3,"s":3.2,"c":0.348,"t":"C"},
{"r":561,"d":5.1,"s":3.8,"c":0.348,"t":"C"},{"r":562,"d":4.3,"s":3.5,"c":0.348,"t":"C"},{"r":563,"d":4.1,"s":2.8,"c":0.348,"t":"C"},{"r":564,"d":4.8,"s":2.6,"c":0.347,"t":"C"},{"r":565,"d":5.3,"s":3.0,"c":0.347,"t":"C"},{"r":566,"d":5.4,"s":2.9,"c":0.342,"t":"C"},{"r":567,"d":5.6,"s":2.5,"c":0.336,"t":"C"},{"r":568,"d":5.7,"s":2.7,"c":0.333,"t":"C"},{"r":569,"d":5.9,"s":2.7,"c":0.328,"t":"C"},{"r":570,"d":5.8,"s":2.6,"c":0.322,"t":"C"},
{"r":571,"d":5.7,"s":2.2,"c":0.318,"t":"C"},{"r":572,"d":5.5,"s":2.4,"c":0.315,"t":"C"},{"r":573,"d":5.1,"s":1.9,"c":0.31,"t":"C"},{"r":574,"d":4.9,"s":2.2,"c":0.305,"t":"C"},{"r":575,"d":4.7,"s":2.3,"c":0.302,"t":"C"},{"r":576,"d":4.8,"s":2.2,"c":0.3,"t":"C"},{"r":577,"d":5.3,"s":2.5,"c":0.29,"t":"C"},{"r":578,"d":6.0,"s":2.4,"c":0.28,"t":"C"},{"r":579,"d":6.7,"s":3.2,"c":0.272,"t":"C"},{"r":580,"d":7.1,"s":3.6,"c":0.27,"t":"C"},
{"r":581,"d":7.6,"s":4.4,"c":0.268,"t":"C"},{"r":582,"d":8.0,"s":4.0,"c":0.265,"t":"C"},{"r":583,"d":9.6,"s":6.5,"c":0.258,"t":"C"},{"r":584,"d":10.4,"s":5.7,"c":0.252,"t":"C"},{"r":585,"d":10.2,"s":7.1,"c":0.256,"t":"C"}
]},
"concat": [
{
"width": 1127.4,
"height": 194,
"data": {"name": "res"},
"layer": [
{
"mark": {"type": "errorbar", "ticks": true, "size": 5, "thickness": 1.2, "color": "#00008b", "clip": true},
"encoding": {
"x": {"field": "r", "type": "quantitative", "scale": {"domain": [0, 585], "nice": false, "zero": false}, "axis": {"orient": "top", "labels": false, "title": null, "grid": false, "values": [0, 100, 200, 300, 400, 500]}},
"y": {"field": "d", "type": "quantitative", "scale": {"domain": [0, 22.8], "nice": false}, "axis": {"orient": "right", "labels": false, "title": null, "grid": false, "values": [0, 5, 10, 15, 20]}},
"yError": {"field": "s"}
}
},
{
"mark": {"type": "line", "color": "#0000ff", "strokeWidth": 2, "clip": true},
"encoding": {
"x": {"field": "r", "type": "quantitative", "axis": {"orient": "bottom", "title": "Residue Number", "grid": true, "values": [0, 100, 200, 300, 400, 500]}},
"y": {"field": "d", "type": "quantitative", "axis": {"orient": "left", "title": "Distance (Angstrom)", "grid": true, "values": [0, 5, 10, 15, 20]}}
}
},
{
"data": {"values": []},
"mark": {"type": "point", "filled": true, "opacity": 1, "size": 132.25},
"encoding": {
"color": {"field": "k", "type": "nominal", "scale": {"domain": ["Estimated Distance", "Standard Deviation"], "range": ["#0000ff", "#00008b"]},
"legend": {"orient": "none", "legendX": 1090.2, "legendY": 5.7, "title": null, "padding": 0, "rowPadding": 1.25, "symbolSize": 132.25, "symbolStrokeWidth": 0, "labelAlign": "right", "labelOffset": -30.2, "labelFont": "DejaVu Sans Mono", "labelFontWeight": "bold", "labelFontSize": 11.5, "labelColor": "#000000", "labelLimit": 300}},
"shape": {"field": "k", "type": "nominal", "scale": {"domain": ["Estimated Distance", "Standard Deviation"], "range": ["M-3.04,-0.17H3.04V0.17H-3.04Z", "M-3.04,-0.09H3.04V0.09H-3.04Z M-3.04,-0.44H-2.87V0.44H-3.04Z M-0.09,-0.44H0.09V0.44H-0.09Z M2.87,-0.44H3.04V0.44H2.87Z"]}}
}
}
],
"resolve": {"axis": {"x": "independent", "y": "independent"}}
},
{
"width": 1127.4,
"height": 195,
"view": {"stroke": null},
"layer": [
{
"data": {"name": "res"},
"mark": {"type": "line", "color": "#0000ff", "strokeWidth": 2},
"encoding": {
"x": {"field": "r", "type": "quantitative", "scale": {"domain": [-3.655, 585], "nice": false, "zero": false}, "axis": {"orient": "bottom", "title": "Residue Number", "grid": true, "values": [0, 100, 200, 300, 400, 500]}},
"y": {"field": "c", "type": "quantitative", "scale": {"domain": [0, 1], "nice": false}, "axis": {"orient": "left", "offset": -7, "title": "SS and Coverage", "grid": true, "values": [0, 0.2, 0.4, 0.6, 0.8, 1], "format": "~g"}}
}
},
{
"data": {"name": "res"},
"mark": {"type": "point", "filled": true, "opacity": 1, "size": 132.25},
"encoding": {
"x": {"field": "r", "type": "quantitative", "axis": {"orient": "top", "labels": false, "title": null, "grid": false, "values": [0, 100, 200, 300, 400, 500]}},
"y": {"datum": 0.03, "type": "quantitative", "axis": {"orient": "right", "labels": false, "title": null, "grid": false, "values": [0, 0.2, 0.4, 0.6, 0.8, 1]}},
"color": {"field": "t", "type": "nominal", "scale": {"domain": ["H", "E", "C", "A"], "range": ["#ff0000", "#00c000", "#0088ff", "#0000ff"]},
"legend": {"orient": "none", "legendX": 1090.2, "legendY": 5.7, "title": null, "padding": 0, "rowPadding": 1.25, "symbolSize": 132.25, "symbolStrokeWidth": 0, "labelAlign": "right", "labelOffset": -30.2, "labelFont": "DejaVu Sans Mono", "labelFontWeight": "bold", "labelFontSize": 11.5, "labelColor": "#000000", "labelLimit": 300,
"labelExpr": "datum.label == 'H' ? 'Helix' : datum.label == 'E' ? 'Strand' : datum.label == 'C' ? 'Coil' : 'Alignment Coverage'"}},
"shape": {"field": "t", "type": "nominal", "scale": {"domain": ["H", "E", "C", "A"], "range": ["M-0.5,0A0.5,0.5 0 1,0 0.5,0A0.5,0.5 0 1,0 -0.5,0Z", "M-0.58,-0.58H0.58V0.58H-0.58Z", "M-0.13,-0.13H0.13V0.13H-0.13Z", "M-3.04,-0.17H3.04V0.17H-3.04Z"]}}
}
},
{
"data": {"values": [{}]},
"mark": {"type": "rule", "color": "#000000", "strokeWidth": 1},
"encoding": {"x": {"datum": 0, "type": "quantitative", "axis": null}, "y": {"datum": 0, "type": "quantitative", "axis": null}, "y2": {"datum": 1}}
},
{
"data": {"values": [{}]},
"mark": {"type": "rule", "color": "#000000", "strokeWidth": 1},
"encoding": {"x": {"datum": 585, "type": "quantitative", "axis": null}, "y": {"datum": 0, "type": "quantitative", "axis": null}, "y2": {"datum": 1}}
},
{
"data": {"values": [{}]},
"mark": {"type": "rule", "color": "#000000", "strokeWidth": 1},
"encoding": {"x": {"datum": 0, "type": "quantitative", "axis": null}, "x2": {"datum": 585}, "y": {"datum": 0, "type": "quantitative", "axis": null}}
},
{
"data": {"values": [{}]},
"mark": {"type": "rule", "color": "#000000", "strokeWidth": 1},
"encoding": {"x": {"datum": 0, "type": "quantitative", "axis": null}, "x2": {"datum": 585}, "y": {"datum": 1, "type": "quantitative", "axis": null}}
}
],
"resolve": {"axis": {"x": "independent", "y": "independent"}}
}
],
"columns": 1,
"spacing": 9.3,
"resolve": {"scale": {"color": "independent", "shape": "independent"}},
"config": {
"view": {"stroke": "#000000", "strokeWidth": 1},
"font": "DejaVu Sans Mono",
"axis": {
"domain": false, "ticks": true, "tickSize": -6, "tickColor": "#000000", "tickWidth": 1,
"labelFont": "DejaVu Sans Mono", "labelFontWeight": "bold", "labelFontSize": 11.5, "labelColor": "#000000", "labelFlush": false, "labelOverlap": false,
"titleFont": "DejaVu Sans Mono", "titleFontWeight": "bold", "titleFontSize": 11.5, "titleColor": "#000000",
"gridColor": "#a0a0a0", "gridDash": [3, 3], "gridWidth": 1, "gridOpacity": 1
},
"axisX": {"labelPadding": 15.3, "titlePadding": 6},
"axisY": {"labelPadding": 14, "titlePadding": 13}
}
}
